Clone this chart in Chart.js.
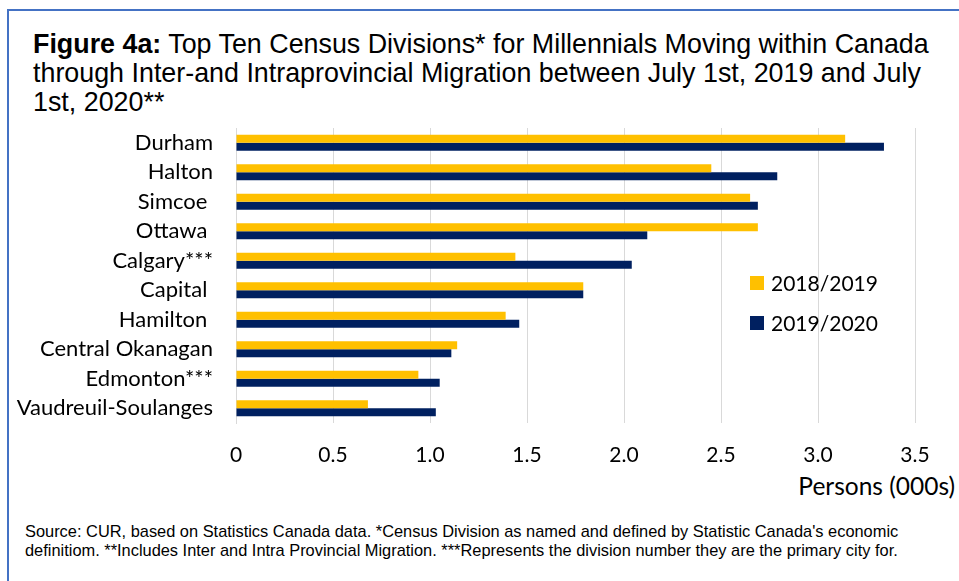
<!DOCTYPE html>
<html>
<head>
<meta charset="utf-8">
<script src="https://cdn.jsdelivr.net/npm/chart.js@4.4.0/dist/chart.umd.min.js"></script>
<style>
  html, body { margin: 0; padding: 0; background: #ffffff; }
  body { width: 959px; height: 581px; position: relative; overflow: hidden; }
  .frame {
    position: absolute; left: 7px; top: 9px; width: 1000px; height: 620px;
    border-top: 2px solid #4472C4; border-left: 2px solid #4472C4;
  }
  .title {
    position: absolute; left: 33px; top: 30px; width: 940px; white-space: nowrap;
    font-family: "Liberation Sans", Arial, sans-serif; font-size: 26.85px; line-height: 29px; color: #000;
  }
  .xtitle {
    position: absolute; right: 4px; top: 471px;
    font-family: Lato, sans-serif; font-size: 24.5px; color: #000;
  }
  .note {
    position: absolute; left: 25px; top: 522px; width: 940px; white-space: nowrap;
    font-family: "Liberation Sans", Arial, sans-serif; font-size: 16.4px; line-height: 19px; color: #000;
  }
  #myChart { position: absolute; left: 0; top: 0; }
</style>
</head>
<body>
<div class="frame"></div>
<div class="title"><b>Figure 4a:</b> Top Ten Census Divisions* for Millennials Moving within Canada<br>through Inter-and Intraprovincial Migration between July 1st, 2019 and July<br>1st, 2020**</div>
<div class="xtitle">Persons (000s)</div>
<div class="note">Source: CUR, based on Statistics Canada data. *Census Division as named and defined by Statistic Canada's economic<br>definitiom. **Includes Inter and Intra Provincial Migration. ***Represents the division number they are the primary city for.</div>
<canvas id="myChart" width="959" height="581"></canvas>
<script>
// -------------------------------------------- Top ten census divisions --------------------------------------------
Chart.defaults.font.family = "Lato";
Chart.defaults.font.size = 21;
Chart.defaults.color = "black";

const divisions = [
    "Durham", "Halton", "Simcoe ", "Ottawa ", "Calgary***", "Capital ", "Hamilton ",
    "Central Okanagan", "Edmonton***", "Vaudreuil-Soulanges"
];
const moves1819 = [3.14, 2.45, 2.65, 2.69, 1.44, 1.79, 1.39, 1.14, 0.94, 0.68];
const moves1920 = [3.34, 2.79, 2.69, 2.12, 2.04, 1.79, 1.46, 1.11, 1.05, 1.03];
const xTicks = [0, 0.5, 1, 1.5, 2, 2.5, 3, 3.5];

// legend drawn inside the plot, Excel style
const sideLegend = {
    id: "sideLegend",
    afterDraw(chart) {
        const ctx = chart.ctx;
        const area = chart.chartArea;
        ctx.save();
        ctx.font = "21px Lato";
        ctx.textBaseline = "middle";
        chart.data.datasets.forEach((ds, i) => {
            const x = area.left + 514;
            const y = area.top + 155 + i * 40;
            ctx.fillStyle = ds.backgroundColor;
            ctx.fillRect(x, y - 7, 14, 14);
            ctx.fillStyle = "black";
            ctx.fillText(ds.label, x + 21, y + 1);
        });
        ctx.restore();
    },
};

const data = {
    labels: divisions,
    datasets: [
        {
            label: "2018/2019",
            data: moves1819,
            backgroundColor: "#FFC000",
            borderWidth: 0,
        },
        {
            label: "2019/2020",
            data: moves1920,
            backgroundColor: "#002060",
            borderWidth: 0,
        },
    ],
};

const config = {
    type: "bar",
    data: data,
    plugins: [sideLegend],
    options: {
        indexAxis: "y",
        responsive: false,
        animation: false,
        layout: { padding: { top: 128, right: 44, left: 0, bottom: 0 } },
        datasets: { bar: { categoryPercentage: 0.55, barPercentage: 1.0 } },
        scales: {
            x: {
                min: 0,
                max: 3.5,
                afterBuildTicks: (scale) => {
                    scale.ticks = xTicks.map((v) => ({ value: v }));
                },
                afterFit: (scale) => { scale.height = 158; },
                grid: { color: "#D9D9D9", lineWidth: 1, drawTicks: false },
                border: { display: false },
                ticks: { padding: 20, font: { size: 21 } },
            },
            y: {
                afterFit: (scale) => { scale.width = 236; },
                grid: { display: false, drawTicks: false },
                border: { display: true, color: "#D9D9D9", width: 1 },
                ticks: { padding: 23, font: { size: 22 } },
            },
        },
        plugins: {
            legend: { display: false },
            tooltip: { enabled: false },
        },
    },
};

const myChart = new Chart(document.getElementById("myChart").getContext("2d"), config);
</script>
</body>
</html>
